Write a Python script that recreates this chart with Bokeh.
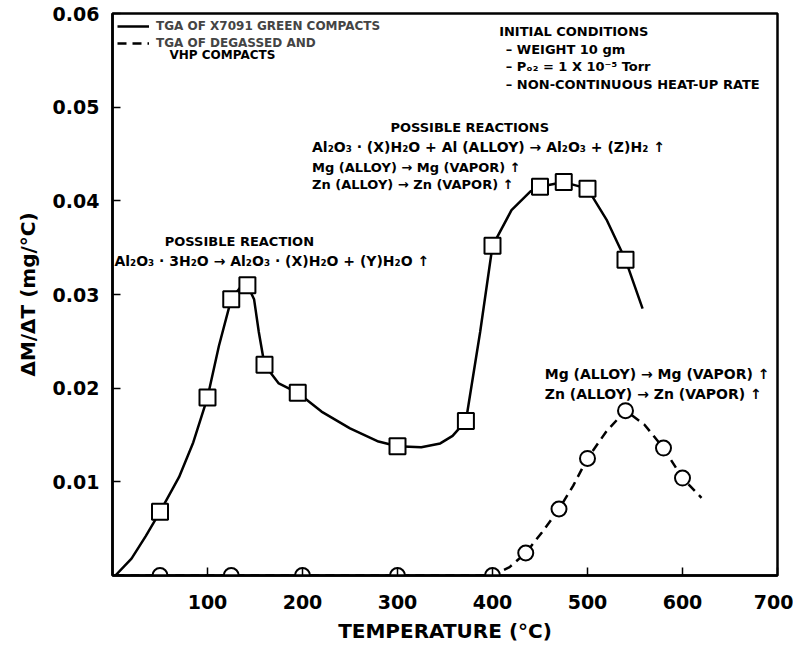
from bokeh.plotting import figure
from bokeh.models import Range1d, FixedTicker, Label, Legend, LegendItem
from bokeh.embed import file_html
from bokeh.resources import INLINE

# ---- data ----
# TGA of X7091 green compacts: measured points (squares)
green_temp = [50, 100, 125, 142, 160, 195, 300, 372, 400, 450, 475, 500, 540]
green_rate = [0.0068, 0.019, 0.0295, 0.031, 0.0225, 0.0195, 0.0138, 0.0165, 0.0352, 0.0415, 0.042, 0.0413, 0.0337]
# traced line of the green-compact curve
green_line_temp = [3, 20, 35, 50, 70, 85, 100, 112, 125, 134, 142, 149, 154, 160, 175, 195, 220, 250, 280, 300,
                   325, 345, 358, 372, 387, 400, 420, 440, 450, 475, 500, 520, 540, 558]
green_line_rate = [0.0, 0.0018, 0.0042, 0.0068, 0.0105, 0.0142, 0.019, 0.0245, 0.0295, 0.0307, 0.031, 0.0295,
                   0.026, 0.0225, 0.0205, 0.0195, 0.0175, 0.0157, 0.0143, 0.0138, 0.0137, 0.0141, 0.0149, 0.0165,
                   0.026, 0.0352, 0.039, 0.041, 0.0415, 0.042, 0.0413, 0.038, 0.0337, 0.0285]
# TGA of degassed and VHP compacts: measured points (circles)
vhp_temp = [50, 125, 200, 300, 400, 435, 470, 500, 540, 580, 600]
vhp_rate = [0.0, 0.0, 0.0, 0.0, 0.0, 0.0024, 0.0071, 0.0125, 0.0176, 0.0136, 0.0104]
# traced dashed line of the degassed curve
vhp_line_temp = [3, 100, 200, 300, 400, 418, 435, 452, 470, 485, 500, 520, 540, 560, 580, 600, 620]
vhp_line_rate = [0.0, 0.0, 0.0, 0.0, 0.0, 0.0009, 0.0024, 0.0046, 0.0071, 0.0096, 0.0125, 0.0154, 0.0176, 0.0161,
                 0.0136, 0.0104, 0.0083]

x_ticks = [100, 200, 300, 400, 500, 600, 700]
y_ticks = [0.01, 0.02, 0.03, 0.04, 0.05, 0.06]

FONT = "DejaVu Sans"

p = figure(frame_width=665, frame_height=562,
           x_range=Range1d(0, 700), y_range=Range1d(0, 0.06),
           output_backend="svg", toolbar_location=None,
           min_border_left=112, min_border_right=16, min_border_top=13, min_border_bottom=71,
           background_fill_color="white", border_fill_color="white")

p.xgrid.visible = False
p.ygrid.visible = False
p.outline_line_color = "black"
p.outline_line_width = 2.5

for ax in (p.xaxis[0], p.yaxis[0]):
    ax.axis_line_width = 2.5
    ax.major_tick_in = 8
    ax.major_tick_out = 0
    ax.major_tick_line_width = 1.5
    ax.minor_tick_in = 0
    ax.minor_tick_out = 0
    ax.major_label_text_font = FONT
    ax.major_label_text_font_size = "19px"
    ax.major_label_text_font_style = "bold"
    ax.major_label_text_color = "black"
    ax.axis_label_text_font = FONT
    ax.axis_label_text_font_size = "20px"
    ax.axis_label_text_font_style = "bold"
    ax.axis_label_text_color = "black"

p.xaxis.ticker = FixedTicker(ticks=x_ticks)
p.yaxis.ticker = FixedTicker(ticks=y_ticks)
p.yaxis.major_label_overrides = {t: f"{t:.2f}" for t in y_ticks}
p.xaxis.major_label_standoff = 19
p.yaxis.major_label_standoff = 13
p.xaxis.axis_label = "TEMPERATURE (°C)"
p.yaxis.axis_label = "ΔM/ΔT (mg/°C)"
p.xaxis.axis_label_standoff = 7
p.yaxis.axis_label_standoff = 10

r_green = p.line(green_line_temp, green_line_rate, line_color="black", line_width=2.5)
r_vhp = p.line(vhp_line_temp, vhp_line_rate, line_color="black", line_width=2.5, line_dash="9 6")
r_sq = p.scatter(green_temp, green_rate, marker="square", size=16, fill_color="white",
                 line_color="black", line_width=2)
r_ci = p.scatter(vhp_temp, vhp_rate, marker="circle", size=15, fill_color="white",
                 line_color="black", line_width=2)
for r in (r_green, r_vhp, r_sq, r_ci):
    if hasattr(r, "clip"):
        r.clip = False

legend = Legend(items=[LegendItem(label="TGA OF X7091 GREEN COMPACTS", renderers=[r_green]),
                       LegendItem(label="TGA OF DEGASSED AND", renderers=[r_vhp])],
                location="top_left", border_line_alpha=0, background_fill_alpha=0,
                label_text_font=FONT, label_text_font_size="12px", label_text_font_style="bold",
                glyph_width=32, glyph_height=16, label_height=16, spacing=1, padding=5, margin=0,
                label_standoff=7)
p.add_layout(legend)


def note(x, y, text, align="left", size="13px"):
    p.add_layout(Label(x=x, y=y, text=text, text_font=FONT, text_font_size=size,
                       text_font_style="bold", text_color="black", text_align=align,
                       text_baseline="middle"))


note(60, 0.0556, "VHP COMPACTS", size="12px")

note(407, 0.0581, "INITIAL CONDITIONS")
note(414, 0.0562, "–  WEIGHT 10 gm")
note(414, 0.0543, "–  Pₒ₂ = 1 X 10⁻⁵ Torr")
note(414, 0.0524, "–  NON-CONTINUOUS HEAT-UP RATE")

note(376, 0.0478, "POSSIBLE REACTIONS", align="center")
note(210, 0.0457, "Al₂O₃ · (X)H₂O + Al (ALLOY) → Al₂O₃ + (Z)H₂ ↑", size="14px")
note(210, 0.0436, "Mg (ALLOY) → Mg (VAPOR) ↑")
note(210, 0.0417, "Zn (ALLOY) → Zn (VAPOR) ↑")

note(55, 0.0357, "POSSIBLE REACTION")
note(2, 0.0336, "Al₂O₃ · 3H₂O → Al₂O₃ · (X)H₂O + (Y)H₂O ↑", size="14px")

note(455, 0.0215, "Mg (ALLOY) → Mg (VAPOR) ↑", size="14px")
note(455, 0.0194, "Zn (ALLOY) → Zn (VAPOR) ↑", size="14px")

open("out.html", "w").write(file_html(p, INLINE))
